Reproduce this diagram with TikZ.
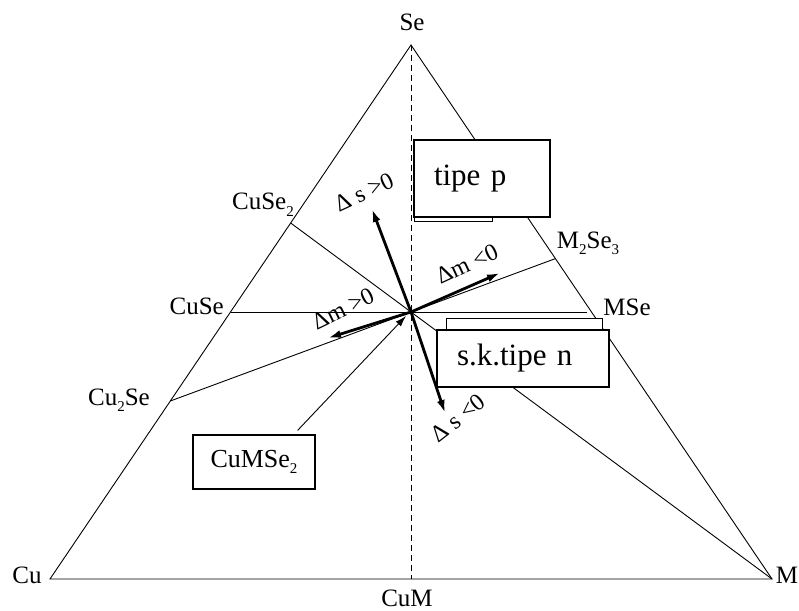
\documentclass[tikz,border=0pt]{standalone}
\usepackage{fontspec}
\setmainfont{Liberation Serif}
\usetikzlibrary{arrows.meta,calc}
\newcommand\mysub[1]{\raisebox{-0.55ex}{\fontsize{15}{15}\selectfont #1}}
\begin{document}
\begin{tikzpicture}[x=1pt,y=1pt,
  thinline/.style={line width=0.9pt},
  dashline/.style={line width=0.9pt,dash pattern=on 6pt off 4pt},
  thickarrow/.style={line width=2.8pt,-{Latex[length=13pt,width=8pt]}},
  vlabel/.style={font=\fontsize{25}{28}\selectfont, inner sep=0pt},
  dlabel/.style={font=\fontsize{24}{26}\selectfont, inner sep=0pt},
  bigbox/.style={draw,line width=1.4pt,fill=white,font=\fontsize{31}{34}\selectfont,align=left,inner xsep=20pt},
  shadowbox/.style={draw,line width=1pt,fill=white,inner sep=0pt}]
\useasboundingbox (0,0) rectangle (799,610);
% corners and compositions
\coordinate (Se) at (411,565);
\coordinate (Cu) at (50,31);
\coordinate (M) at (772,31);
\coordinate (CuM) at (411,31);
\coordinate (CuSe2) at ($(Cu)!2/3!(Se)$);
\coordinate (CuSe) at ($(Cu)!1/2!(Se)$);
\coordinate (Cu2Se) at ($(Cu)!1/3!(Se)$);
\coordinate (M2Se3) at ($(M)!3/5!(Se)$);
\coordinate (MSe) at ($(M)!1/2!(Se)$);
\coordinate (MSeEnd) at ($(MSe)+(-5,0)$);
\coordinate (O) at ($0.25*(Cu)+0.25*(M)+0.5*(Se)$);
% triangle and tie lines
\draw[thinline] (Cu) -- (Se) -- (M) -- cycle;
\draw[dashline] (Se) -- (CuM);
\draw[thinline] (CuSe) -- (MSeEnd);
\draw[thinline] (CuSe2) -- (M);
\draw[thinline] (Cu2Se) -- (M2Se3);
% arrow tips
\coordinate (dsp) at (372,401);
\coordinate (dsn) at (445,197);
\coordinate (dmn) at (500,337);
\coordinate (dmp) at (328,272);
\draw[thickarrow] (O) -- (dsp);
\draw[thickarrow] (O) -- (dsn);
\draw[thickarrow] (O) -- (dmn);
\draw[thickarrow] (O) -- (dmp);
% arrow labels
\node[dlabel,rotate=25] (ldsp) at (364,418) {Δ s >0};
\node[dlabel,rotate=38] (ldsn) at (458,192) {Δ s <0};
\node[dlabel,rotate=25] (ldmn) at (467,346) {Δm <0};
\node[dlabel,rotate=26] (ldmp) at (343,301) {Δm >0};
% vertex labels
\node[vlabel] (lSe) at (412,588) {Se};
\node[vlabel] (lCu) at (27,35) {Cu};
\node[vlabel] (lM) at (787,35) {M};
\node[vlabel] (lCuM) at (407,12) {CuM};
\node[vlabel,anchor=base east] (lCuSe2) at (294,400) {CuSe\mysub{2}};
\node[vlabel,anchor=east] (lCuSe) at (224,304) {CuSe};
\node[vlabel] (lCu2Se) at (119,210) {Cu\mysub{2}Se};
\node[vlabel] (lM2Se3) at (588,367) {M\mysub{2}Se\mysub{3}};
\node[vlabel] (lMSe) at (627,303) {MSe};
% boxes
\node[shadowbox,minimum width=78pt,minimum height=22pt,anchor=south west] (pshadow) at (414,388) {};
\node[bigbox,minimum width=136pt,minimum height=77pt,text width=96pt] (tipep) at (482,431.5) {tipe p};
\node[shadowbox,minimum width=156pt,minimum height=22pt,anchor=north west] (nshadow) at (446,292) {};
\node[bigbox,minimum width=172pt,minimum height=57pt,text width=132pt] (tipen) at (523,251.5) {s.k.tipe n};
\node[draw,line width=1.2pt,fill=white,minimum width=122pt,minimum height=54pt,font=\fontsize{26}{28}\selectfont] (cumse) at (254,148) {CuMSe\mysub{2}};
\coordinate (cstart) at ($(cumse.north east)+(-18,4)$);
\coordinate (ctip) at (406,294);
\draw[thinline,-{Latex[length=11pt,width=7pt]}] (cstart) -- (ctip);
\end{tikzpicture}
\end{document}
